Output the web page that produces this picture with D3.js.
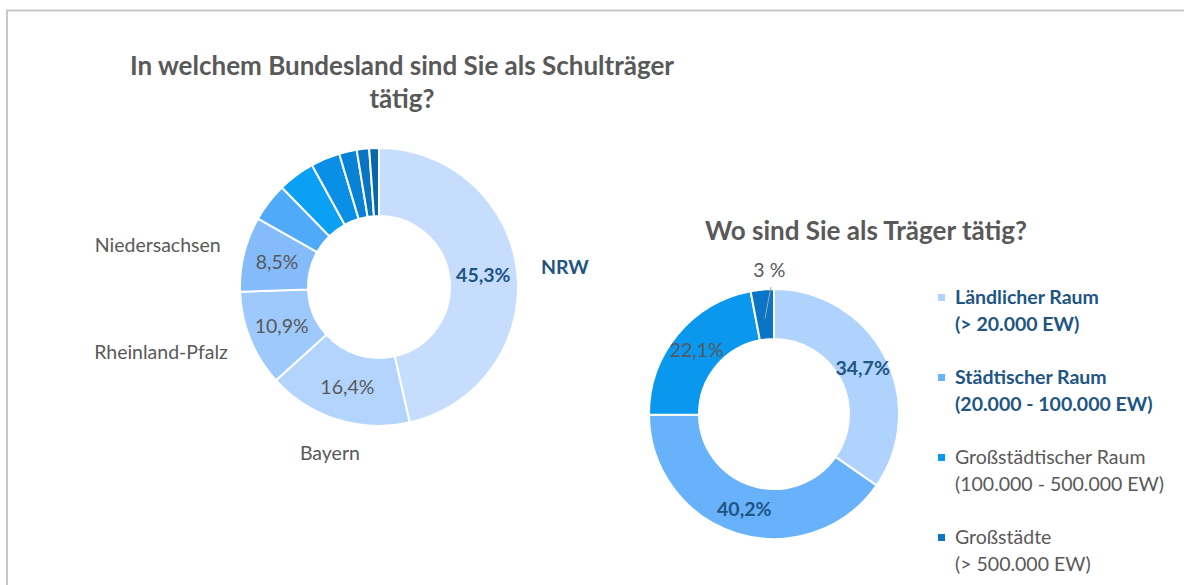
<!DOCTYPE html>
<html>
<head>
<meta charset="utf-8">
<script src="https://cdn.jsdelivr.net/npm/d3@7"></script>
<style>
  body { margin: 0; background: #fff; }
  text { font-family: Lato, "Open Sans", sans-serif; }
</style>
</head>
<body>
<div id="chart"></div>
<script>
let width = 1184;
let height = 585;

// Bundesland donut (small slices carry no label in the original)
const landNames = ["NRW", "Bayern", "Rheinland-Pfalz", "Niedersachsen", "", "", "", "", "", ""];
const landValues = [45.3, 16.4, 10.9, 8.5, 4.4, 4.2, 3.3, 2.0, 1.4, 1.1];
const landLabels = ["45,3%", "16,4%", "10,9%", "8,5%", "", "", "", "", "", ""];

// Raum donut
const raumNames = ["Ländlicher Raum", "Städtischer Raum", "Großstädtischer Raum", "Großstädte"];
const raumSub = ["(> 20.000 EW)", "(20.000 - 100.000 EW)", "(100.000 - 500.000 EW)", "(> 500.000 EW)"];
const raumValues = [34.7, 40.2, 22.1, 3];
const raumLabels = ["34,7%", "40,2%", "22,1%", "3 %"];

// styling
const landColors = ["#c6ddfd", "#b3d4fd", "#9dc9fc", "#84bcfb", "#4fabf9",
                    "#0aa0f4", "#0a8fe6", "#0882d6", "#0775c3", "#0866aa"];
const raumColors = ["#b0d3fe", "#68b1fb", "#0a97ee", "#0a74c6"];
const darkBlue = "#1e5583";
const grey = "#595959";
const boldLand = new Set(["NRW"]);
const boldRaum = new Set(["Ländlicher Raum", "Städtischer Raum"]);
const fs = 19.5;

let svg = d3.select("#chart")
  .append("svg")
  .attr("width", width)
  .attr("height", height);

svg.append("rect").attr("width", width).attr("height", height).attr("fill", "#fff");

// frame of the slide
svg.append("path")
  .attr("d", "M7," + height + "V10.5H" + width)
  .attr("fill", "none")
  .attr("stroke", "#c8c8c8")
  .attr("stroke-width", 2);

function pointAt(angle, r) {
  return [r * Math.sin(angle), -r * Math.cos(angle)];
}

function drawDonut(opts) {
  let g = svg.append("g").attr("transform", "translate(" + opts.cx + "," + opts.cy + ")");
  let pie = d3.pie().sort(null).value(d => d.value);
  let arcs = pie(opts.names.map((n, i) => ({ name: n, value: opts.values[i], label: opts.labels[i], i: i })));
  let arc = d3.arc().innerRadius(opts.inner).outerRadius(opts.outer);

  g.selectAll("path")
    .data(arcs)
    .enter().append("path")
    .attr("d", arc)
    .attr("fill", d => opts.colors[d.data.i])
    .attr("stroke", "#fff")
    .attr("stroke-width", 2);

  // percentage labels inside the ring
  let inside = arcs.filter(d => d.data.label && d.data.value >= 5);
  g.selectAll("text.pct")
    .data(inside)
    .enter().append("text")
    .attr("class", "pct")
    .attr("x", d => arc.centroid(d)[0])
    .attr("y", d => arc.centroid(d)[1])
    .attr("dy", "0.35em")
    .attr("text-anchor", "middle")
    .attr("font-size", fs)
    .attr("font-weight", d => opts.bold.has(d.data.name) ? "bold" : "normal")
    .attr("fill", d => opts.bold.has(d.data.name) ? darkBlue : grey)
    .text(d => d.data.label);

  // small slices: label outside with leader line
  let outside = arcs.filter(d => d.data.label && d.data.value < 5);
  outside.forEach(d => {
    let a = (d.startAngle + d.endAngle) / 2;
    let p0 = pointAt(a, (opts.inner + opts.outer) / 2 - 4);
    let p1 = pointAt(a + 0.07, opts.outer + 2);
    let p2 = pointAt(a + 0.06, opts.outer + 12);
    g.append("line")
      .attr("x1", p0[0]).attr("y1", p0[1])
      .attr("x2", p1[0]).attr("y2", p1[1])
      .attr("stroke", "#a6a6a6").attr("stroke-width", 1);
    g.append("text")
      .attr("x", p2[0]).attr("y", p2[1])
      .attr("text-anchor", "middle")
      .attr("font-size", fs)
      .attr("fill", grey)
      .text(d.data.label);
  });

  // category names outside the ring
  if (opts.showNames) {
    let named = arcs.filter(d => d.data.name);
    named.forEach(d => {
      let a = (d.startAngle + d.endAngle) / 2;
      let p = pointAt(a, opts.outer + 24);
      let s = Math.sin(a);
      let anchor = s > 0.5 ? "start" : (s < -0.5 ? "end" : "middle");
      let dy = 0.35 - Math.cos(a) * 0.6;
      g.append("text")
        .attr("x", p[0]).attr("y", p[1])
        .attr("dy", dy + "em")
        .attr("text-anchor", anchor)
        .attr("font-size", fs)
        .attr("font-weight", opts.bold.has(d.data.name) ? "bold" : "normal")
        .attr("fill", opts.bold.has(d.data.name) ? darkBlue : grey)
        .text(d.data.name);
    });
  }
}

// titles
let t1 = svg.append("text")
  .attr("x", 402).attr("y", 75)
  .attr("text-anchor", "middle")
  .attr("font-size", 26).attr("font-weight", "bold")
  .attr("fill", grey);
t1.append("tspan").attr("x", 402).text("In welchem Bundesland sind Sie als Schulträger");
t1.append("tspan").attr("x", 402).attr("dy", 33).text("tätig?");

svg.append("text")
  .attr("x", 866).attr("y", 240)
  .attr("text-anchor", "middle")
  .attr("font-size", 26).attr("font-weight", "bold")
  .attr("fill", grey)
  .text("Wo sind Sie als Träger tätig?");

drawDonut({
  cx: 379, cy: 287, outer: 139, inner: 71,
  names: landNames, values: landValues, labels: landLabels,
  colors: landColors, bold: boldLand, showNames: true
});

drawDonut({
  cx: 774, cy: 414, outer: 125, inner: 75,
  names: raumNames, values: raumValues, labels: raumLabels,
  colors: raumColors, bold: boldRaum, showNames: false
});

// legend
let legend = svg.append("g").attr("transform", "translate(938,304)");
let item = legend.selectAll("g")
  .data(raumNames)
  .enter().append("g")
  .attr("transform", (d, i) => "translate(0," + (i * 80) + ")");

item.append("rect")
  .attr("x", 0).attr("y", -10)
  .attr("width", 7).attr("height", 7)
  .attr("fill", (d, i) => raumColors[i]);

let lt = item.append("text")
  .attr("font-size", fs)
  .attr("font-weight", d => boldRaum.has(d) ? "bold" : "normal")
  .attr("fill", d => boldRaum.has(d) ? darkBlue : grey);
lt.append("tspan").attr("x", 17).attr("y", 0).text(d => d);
lt.append("tspan").attr("x", 17).attr("y", 27).text((d, i) => raumSub[i]);
</script>
</body>
</html>
